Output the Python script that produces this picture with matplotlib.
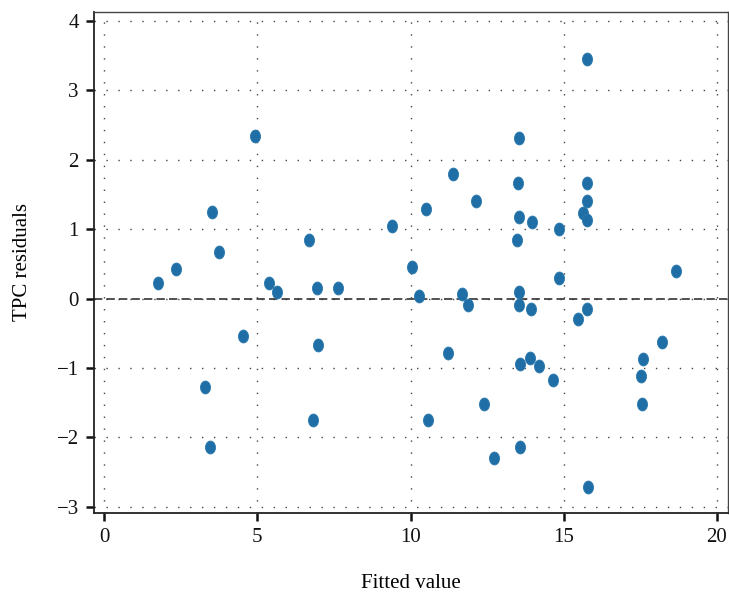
import matplotlib
matplotlib.use("Agg")
import matplotlib.pyplot as plt
from matplotlib.path import Path
from matplotlib.transforms import Affine2D
import numpy as np

fitted = [1.76, 2.35, 3.52, 3.75, 4.93, 5.38, 5.64, 6.69, 6.95, 7.63,
          4.54, 3.30, 3.46, 6.98, 6.82,
          9.41, 10.06, 10.51, 11.38, 12.13, 13.55, 13.52, 13.55, 13.96, 13.46,
          14.85, 14.85, 15.76, 15.76, 15.76, 15.64, 15.76, 18.65,
          10.29, 11.67, 13.55,
          11.87, 13.55, 13.92, 15.47, 15.77, 18.22, 17.60, 17.51, 17.54,
          11.23, 13.57, 13.90, 14.20, 14.64, 12.40, 10.56, 13.57, 12.72, 15.78]
residuals = [0.22, 0.43, 1.25, 0.67, 2.34, 0.22, 0.10, 0.84, 0.15, 0.15,
             -0.54, -1.27, -2.14, -0.67, -1.75,
             1.05, 0.46, 1.29, 1.79, 1.40, 2.31, 1.66, 1.18, 1.11, 0.85,
             1.00, 0.30, 3.45, 1.66, 1.40, 1.24, 1.13, 0.40,
             0.04, 0.07, 0.09,
             -0.10, -0.10, -0.15, -0.30, -0.15, -0.63, -0.87, -1.12, -1.52,
             -0.79, -0.94, -0.86, -0.97, -1.17, -1.52, -1.75, -2.14, -2.30, -2.72]

xticks = [0, 5, 10, 15, 20]
yticks = [-3, -2, -1, 0, 1, 2, 3, 4]
ytick_labels = ['\u22123', '\u22122', '\u22121', '0', '1', '2', '3', '4']

plt.rcParams['font.family'] = ['Liberation Serif', 'DejaVu Serif']

fig = plt.figure(figsize=(7.29, 5.97), dpi=100)
ax = fig.add_axes([0.129, 0.1407, 0.8696, 0.8393])

circ = Path.unit_circle()
ell = circ.transformed(Affine2D().scale(0.78, 1.0))

ax.set_xlim(-0.33, 20.36)
ax.set_ylim(-3.09, 4.13)
ax.set_xticks(xticks)
ax.set_yticks(yticks)
ax.set_yticklabels(ytick_labels)

ax.grid(True, linestyle=(0, (1, 7.6)), color='#444444', linewidth=1.0)
ax.set_axisbelow(True)
ax.axhline(0, color='#333333', linestyle=(0, (5, 2.5)), linewidth=1.2, zorder=2)

ax.plot(fitted, residuals, linestyle='none', marker=ell, markersize=9.3,
        color='#1f6fa6', markeredgecolor='#2a78ad', markeredgewidth=0.6, zorder=3)

for s in ['left', 'bottom']:
    ax.spines[s].set_color('#222222')
    ax.spines[s].set_linewidth(1.3)
for s in ['top', 'right']:
    ax.spines[s].set_color('#444444')
    ax.spines[s].set_linewidth(1.0)

ax.tick_params(axis='both', direction='out', length=6, width=1.8, labelsize=15,
               colors='#111111')
ax.tick_params(axis='x', pad=5)
ax.tick_params(axis='y', pad=5)

ax.set_xlabel('Fitted value', fontsize=15, labelpad=19)
ax.set_ylabel('TPC residuals', fontsize=15, labelpad=18)

fig.savefig('out.png', dpi=100)
